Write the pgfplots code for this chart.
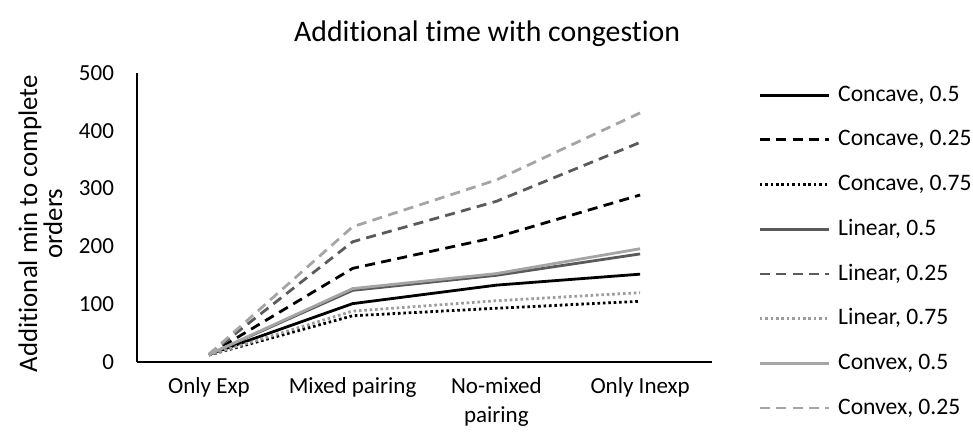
\documentclass[border=0pt]{standalone}
\usepackage{fontspec}
\setmainfont{Carlito}[Ligatures={NoCommon}]
\usepackage{pgfplots}
\pgfplotsset{compat=1.18}
\definecolor{cBlack}{HTML}{000000}
\definecolor{cDark}{HTML}{5A5A5A}
\definecolor{cLight}{HTML}{A5A5A5}
\definecolor{cDot}{HTML}{9C9C9C}
\begin{document}
\begin{tikzpicture}
\useasboundingbox (-68.5pt,-36pt) rectangle (418pt,181pt);
\begin{axis}[
  scale only axis,
  width=287.5pt, height=144.5pt,
  xmin=-0.5, xmax=3.5, ymin=0, ymax=500,
  xtick={0,1,2,3},
  xticklabels={Only Exp, Mixed pairing, {No-mixed\\pairing}, Only Inexp},
  ytick={0,100,200,300,400,500},
  axis x line*=bottom, axis y line*=left,
  axis line style={-, line width=0.9pt, black},
  major tick length=0pt,
  tick style={draw=none},
  /pgf/number format/assume math mode=true,
  xticklabel style={font=\fontsize{11.5}{14.5}\selectfont, align=center, yshift=-4.3pt},
  yticklabel style={font=\fontsize{11.5}{13.5}\selectfont, xshift=-8pt},
  ylabel={Additional min to complete\\orders},
  ylabel style={font=\fontsize{13.4}{12.5}\selectfont, align=center, at={(axis description cs:-0.168,0.479)}, anchor=center, rotate=0},
  title={Additional time with congestion},
  title style={font=\fontsize{14.9}{18}\selectfont, at={(axis description cs:0.609,1.0935)}, anchor=center},
  legend style={at={(axis description cs:1.080,0.959)}, anchor=north west, draw=none, fill=none, inner sep=0pt,
    font=\fontsize{11.8}{14}\selectfont,
    nodes={inner sep=0pt, text height=8pt, text depth=2.5pt},
    row sep=11.85pt, legend cell align=left},
  legend image code/.code={\draw[#1] (0pt,0.3pt) -- (34.5pt,0.3pt);},
  /tikz/every odd column/.append style={column sep=4pt},
  clip=false,
]
\addplot[cBlack, line width=1.4pt] coordinates {(0,13) (1,101) (2,133) (3,152)};
\addlegendentry{Concave, 0.5}
\addplot[cBlack, line width=1.4pt, dash pattern=on 5pt off 3.2pt] coordinates {(0,13) (1,162) (2,216) (3,289)};
\addlegendentry{Concave, 0.25}
\addplot[cBlack, line width=1.4pt, dash pattern=on 1.3pt off 1.4pt] coordinates {(0,12) (1,80) (2,93) (3,105)};
\addlegendentry{Concave, 0.75}
\addplot[cDark, line width=1.4pt] coordinates {(0,13) (1,124) (2,150) (3,187)};
\addlegendentry{Linear, 0.5}
\addplot[cDark, line width=1.4pt, dash pattern=on 5pt off 3.2pt] coordinates {(0,13) (1,208) (2,278) (3,380)};
\addlegendentry{Linear, 0.25}
\addplot[cDot, line width=1.4pt, dash pattern=on 1.3pt off 1.4pt] coordinates {(0,12) (1,88) (2,106) (3,120)};
\addlegendentry{Linear, 0.75}
\addplot[cLight, line width=1.4pt] coordinates {(0,13) (1,127) (2,153) (3,196)};
\addlegendentry{Convex, 0.5}
\addplot[cLight, line width=1.4pt, dash pattern=on 5pt off 3.2pt] coordinates {(0,13) (1,234) (2,315) (3,431)};
\addlegendentry{Convex, 0.25}
\end{axis}
\end{tikzpicture}
\end{document}
